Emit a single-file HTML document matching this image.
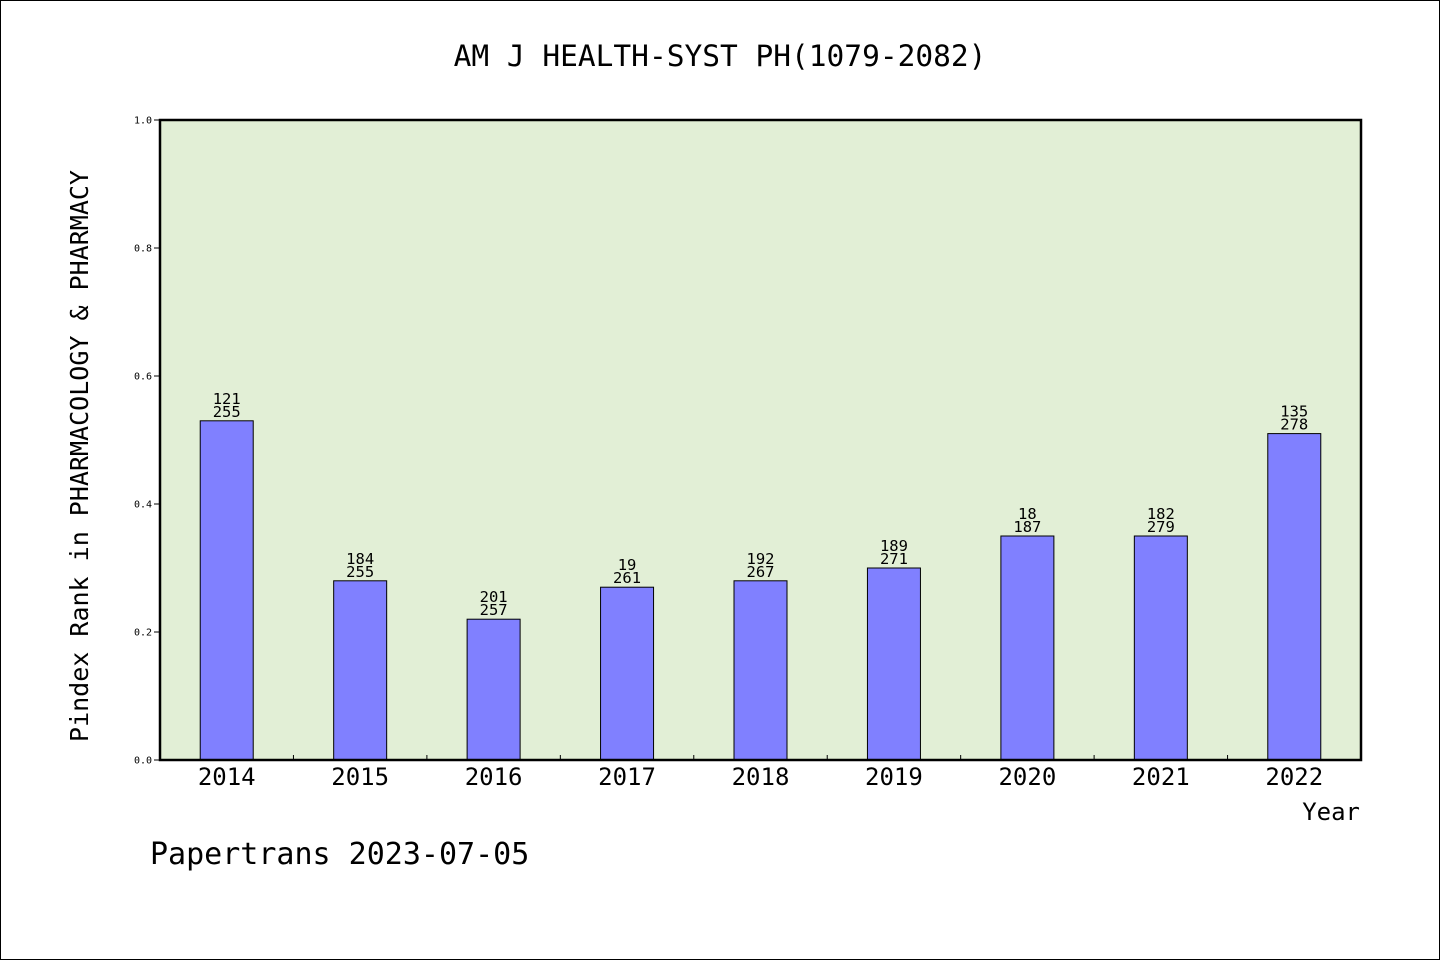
<!DOCTYPE html>
<html><head><meta charset="utf-8"><style>
html,body{margin:0;padding:0;background:#fff;}
svg{display:block;}
text{font-family:"DejaVu Sans Mono","Liberation Mono","WenQuanYi Zen Hei",monospace;fill:#000;}
</style></head><body>
<svg width="1440" height="960">
<rect x="0.5" y="0.5" width="1439" height="959" fill="#fff" stroke="#000"/>
<text x="720" y="66" text-anchor="middle" font-size="29.5">AM J HEALTH-SYST PH(1079-2082)</text>
<rect x="160" y="120" width="1201" height="640" fill="#e2efd6"/>
<g id="marks"></g>
<rect x="160" y="120" width="1201" height="640" fill="none" stroke="#000" stroke-width="2.5"/>
<text transform="translate(88,456) rotate(-90)" text-anchor="middle" font-size="25">Pindex Rank in PHARMACOLOGY &amp; PHARMACY</text>
<text x="1360" y="820" text-anchor="end" font-size="24">Year</text>
<text x="150" y="864" font-size="30">Papertrans 2023-07-05</text>
</svg>
<script>
const categories=["2014","2015","2016","2017","2018","2019","2020","2021","2022"];
const values=[0.53,0.28,0.22,0.27,0.28,0.30,0.35,0.35,0.51];
const labelTop=["121","184","201","19","192","189","18","182","135"];
const labelBottom=["255","255","257","261","267","271","187","279","278"];
const yTicks=[0,0.2,0.4,0.6,0.8,1.0];
const yTickLabels=["0.0","0.2","0.4","0.6","0.8","1.0"];
const X0=160,X1=1361,Y0=760,Y1=120;
const band=(X1-X0)/categories.length;
const xs=i=>X0+band*(i+0.5);
const ys=v=>Y0-(Y0-Y1)*v;
const g=document.getElementById('marks');
const NS='http://www.w3.org/2000/svg';
function mk(t,a){const e=document.createElementNS(NS,t);for(const k in a)e.setAttribute(k,a[k]);g.appendChild(e);return e;}
yTicks.forEach((v,i)=>{
  const l=mk('line',{x1:X0-6,x2:X0,y1:ys(v),y2:ys(v),stroke:'#000'});
  
  
  const t=mk('text',{x:X0-8,y:ys(v)+3.5,'text-anchor':'end','font-size':'10'});
  t.textContent=yTickLabels[i];
  
  
});
categories.forEach((c,i)=>{
  const cx=xs(i),bw=53;
  const r=mk('rect',{x:cx-bw/2,y:ys(values[i]),width:bw,height:Y0-ys(values[i]),fill:'#8080ff',stroke:'#000','stroke-width':'1'});
  
  
  if(i>0){const tk=mk('line',{x1:X0+band*i,x2:X0+band*i,y1:Y0-5,y2:Y0,stroke:'#000'});
  
  }
  const t=mk('text',{x:cx,y:Y0+25,'text-anchor':'middle','font-size':'24'});
  t.textContent=c;
  
  
  const a=mk('text',{x:cx,y:ys(values[i])-17,'text-anchor':'middle','font-size':'15.5'});
  a.textContent=labelTop[i];
  
  
  const b=mk('text',{x:cx,y:ys(values[i])-4,'text-anchor':'middle','font-size':'15.5'});
  b.textContent=labelBottom[i];
  
  
});
</script>
</body></html>
